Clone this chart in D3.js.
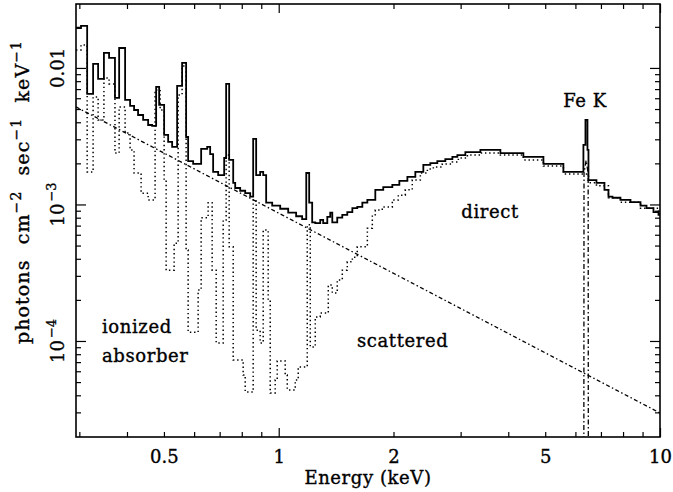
<!DOCTYPE html>
<html>
<head>
<meta charset="utf-8">
<script src="https://d3js.org/d3.v7.min.js"></script>
<style>
body { margin: 0; background: #fff; }
text { font-family: "DejaVu Serif", serif; fill: #000; stroke: #000; stroke-width: 0.35; }
.tick line { stroke: #000; stroke-width: 1.2; }
</style>
</head>
<body>
<svg width="673" height="492"></svg>
<script>
// total model (solid histogram): bin edges in keV, flux per bin
const totalE = [0.294, 0.303, 0.3145, 0.326, 0.336, 0.348, 0.359, 0.372, 0.3815, 0.3955,
  0.4076, 0.4175, 0.4277, 0.441, 0.4545, 0.4656, 0.477, 0.4858, 0.5006, 0.5129,
  0.5254, 0.5415, 0.558, 0.5717, 0.5787, 0.5965, 0.626, 0.6493, 0.661, 0.673,
  0.6938, 0.7194, 0.728, 0.7414, 0.7597, 0.7689, 0.7924, 0.8168, 0.8419, 0.8571,
  0.8727, 0.894, 0.9106, 0.927, 0.9614, 1.009, 1.059, 1.111, 1.152, 1.181,
  1.202, 1.224, 1.247, 1.285, 1.308, 1.341, 1.365, 1.382, 1.424, 1.468,
  1.513, 1.560, 1.607, 1.657, 1.708, 1.792, 1.880, 1.986, 2.072, 2.175,
  2.282, 2.395, 2.498, 2.606, 2.735, 2.854, 2.941, 3.087, 3.380, 3.814,
  4.382, 4.946, 5.580, 6.297, 6.375, 6.453, 6.492, 6.813, 7.150, 7.325,
  7.505, 7.875, 8.368, 8.889, 9.218, 9.614, 9.91, 10]
const totalF = [0.0196, 0.0203, 0.00645, 0.0107, 0.00831, 0.01288, 0.01184, 0.00603, 0.0140, 0.00583,
  0.00527, 0.00492, 0.00452, 0.00416, 0.00382, 0.00376, 0.00726, 0.00536, 0.00323, 0.00287,
  0.00264, 0.00738, 0.01088, 0.00312, 0.00208, 0.00198, 0.00255, 0.00264, 0.00234, 0.00173,
  0.00164, 0.00219, 0.00764, 0.00212, 0.00144, 0.00132, 0.00126, 0.00121, 0.00114, 0.00302,
  0.00164, 0.00173, 0.00164, 0.00103, 0.00098, 0.00093, 0.00087, 0.00082, 0.00078, 0.0017,
  0.00103, 0.00074, 0.00073, 0.00077, 0.00073, 0.00081, 0.00087, 0.00074, 0.0008, 0.00084,
  0.00088, 0.00094, 0.00096, 0.00103, 0.00108, 0.00128, 0.00134, 0.00139, 0.00149, 0.00159,
  0.00173, 0.00195, 0.00201, 0.00208, 0.00215, 0.00223, 0.0023, 0.00242, 0.00251, 0.00238,
  0.00223, 0.00198, 0.00173, 0.00273, 0.00416, 0.00251, 0.00151, 0.00144, 0.00128, 0.00114,
  0.00112, 0.00108, 0.00104, 0.00098, 0.00094, 0.00088, 0.00084]

// direct component through the ionized absorber (dotted)
const directE = [0.294, 0.303, 0.3145, 0.326, 0.336, 0.348, 0.359, 0.372, 0.3815, 0.3955,
  0.4076, 0.4175, 0.4356, 0.4545, 0.474, 0.4887, 0.5006, 0.5067, 0.5318, 0.5448,
  0.558, 0.5717, 0.5787, 0.6147, 0.626, 0.653, 0.669, 0.6855, 0.7151, 0.728,
  0.7414, 0.7597, 0.8068, 0.8168, 0.8571, 0.8727, 0.894, 0.9106, 0.9384, 0.95,
  0.979, 0.991, 1.040, 1.053, 1.105, 1.125, 1.188, 1.21, 1.247, 1.285,
  1.349, 1.382, 1.424, 1.468, 1.513, 1.560, 1.607, 1.708, 1.760, 1.792,
  1.869, 1.986, 2.059, 2.148, 2.240, 2.352, 2.454, 2.544, 2.686, 2.854,
  2.959, 3.125, 3.380, 3.814, 4.382, 4.946, 5.580, 6.492, 6.813, 7.325,
  7.875, 8.889, 9.91, 10]
const directF = [0.01354, 0.01474, 0.00173, 0.00613, 0.00416, 0.00845, 0.00764, 0.00238, 0.00518, 0.00334,
  0.00251, 0.0017, 0.00121, 0.00108, 0.0069, 0.00492, 0.00151, 0.00033, 0.00052, 0.00634,
  0.01034, 0.000464, 0.000116, 0.000236, 0.0008, 0.00103, 0.00033, 0.0000967, 0.00077, 0.0023,
  0.00049, 0.0000726, 0.0000563, 0.0000423, 0.00108, 0.00012, 0.0000967, 0.00065, 0.0002, 0.0000416,
  0.0000518, 0.0000714, 0.0000563, 0.0000438, 0.0000518, 0.0000645, 0.00071, 0.0000904, 0.00015, 0.00016,
  0.000257, 0.000225, 0.00028, 0.00033, 0.00038, 0.00041, 0.00049, 0.00067, 0.00084, 0.00091,
  0.00096, 0.00108, 0.00117, 0.00128, 0.00151, 0.0017, 0.00182, 0.00188, 0.00198, 0.00205,
  0.00219, 0.0023, 0.00238, 0.0023, 0.00212, 0.00191, 0.00167, 0.00144, 0.00137, 0.00112,
  0.00104, 0.00094, 0.00085]

// scattered power law (dash-dot)
const scatterE = [0.294, 10]
const scatterF = [0.00518, 0.0000297]

// Fe K line component (dash-dot)
const feE = [6.31, 6.32, 6.40, 6.48, 6.49]
const feF = [1e-6, 0.0017, 0.0021, 0.0017, 1e-6]

// axis ticks
const xLabelTicks = [0.5, 1, 2, 5, 10]
const xMajorTicks = [1, 10]
const xMinorTicks = [0.3, 0.4, 0.5, 0.6, 0.7, 0.8, 0.9, 2, 3, 4, 5, 6, 7, 8, 9]
const yMajorTicks = [1e-4, 1e-3, 1e-2]
const yMinorTicks = [3e-5, 4e-5, 5e-5, 6e-5, 7e-5, 8e-5, 9e-5,
  2e-4, 3e-4, 4e-4, 5e-4, 6e-4, 7e-4, 8e-4, 9e-4,
  2e-3, 3e-3, 4e-3, 5e-3, 6e-3, 7e-3, 8e-3, 9e-3, 2e-2]
const yLabelBase = ["10", "10", "0.01"]
const yLabelSup = ["\u22124", "\u22123", ""]

const pLeft = 76, pRight = 660, pTop = 4, pBottom = 437

const svg = d3.select("svg")
const x = d3.scaleLog().domain([0.294, 10]).range([pLeft, pRight])
const y = d3.scaleLog().domain([1.98e-5, 0.0294]).range([pBottom, pTop])

svg.append("defs").append("clipPath").attr("id", "plot")
  .append("rect").attr("x", pLeft).attr("y", pTop)
  .attr("width", pRight - pLeft).attr("height", pBottom - pTop)

function steps(E, F) {
  const pts = F.map((f, i) => [E[i], f])
  pts.push([E[E.length - 1], F[F.length - 1]])
  return pts
}
const stepLine = d3.line().curve(d3.curveStepAfter).x(d => x(d[0])).y(d => y(d[1]))
const line = d3.line().x(d => x(d[0])).y(d => y(d[1]))

const plot = svg.append("g").attr("clip-path", "url(#plot)")

plot.append("path")
  .attr("d", line(scatterE.map((e, i) => [e, scatterF[i]])))
  .attr("fill", "none").attr("stroke", "#000").attr("stroke-width", 1.3)
  .attr("stroke-dasharray", "4,2.5,1.5,2.5")

plot.append("path")
  .attr("d", line(feE.map((e, i) => [e, feF[i]])))
  .attr("fill", "none").attr("stroke", "#000").attr("stroke-width", 1.3)
  .attr("stroke-dasharray", "5,2.5,1.5,2.5")

plot.append("path")
  .attr("d", stepLine(steps(directE, directF)))
  .attr("fill", "none").attr("stroke", "#000").attr("stroke-width", 1.5)
  .attr("stroke-dasharray", "1.4,2.8")

plot.append("path")
  .attr("d", stepLine(steps(totalE, totalF)))
  .attr("fill", "none").attr("stroke", "#000").attr("stroke-width", 1.8)

// ticks on all four sides, pointing inward
function clean(g) { g.select(".domain").remove() }
svg.append("g").attr("transform", `translate(0,${pBottom})`)
  .call(d3.axisBottom(x).tickValues(xMinorTicks).tickSize(-5).tickFormat("")).call(clean)
svg.append("g").attr("transform", `translate(0,${pBottom})`)
  .call(d3.axisBottom(x).tickValues(xMajorTicks).tickSize(-9).tickFormat("")).call(clean)
svg.append("g").attr("transform", `translate(0,${pTop})`)
  .call(d3.axisTop(x).tickValues(xMinorTicks).tickSize(-5).tickFormat("")).call(clean)
svg.append("g").attr("transform", `translate(0,${pTop})`)
  .call(d3.axisTop(x).tickValues(xMajorTicks).tickSize(-9).tickFormat("")).call(clean)
svg.append("g").attr("transform", `translate(0,${pBottom})`)
  .call(d3.axisBottom(x).tickValues(xLabelTicks).tickSize(0).tickPadding(13).tickFormat(d3.format("~g")))
  .call(clean)
  .selectAll("text").attr("font-size", 18).attr("font-family", "DejaVu Serif")

svg.append("g").attr("transform", `translate(${pLeft},0)`)
  .call(d3.axisLeft(y).tickValues(yMinorTicks).tickSize(-5).tickFormat("")).call(clean)
svg.append("g").attr("transform", `translate(${pLeft},0)`)
  .call(d3.axisLeft(y).tickValues(yMajorTicks).tickSize(-10).tickFormat("")).call(clean)
svg.append("g").attr("transform", `translate(${pRight},0)`)
  .call(d3.axisRight(y).tickValues(yMinorTicks).tickSize(-5).tickFormat("")).call(clean)
svg.append("g").attr("transform", `translate(${pRight},0)`)
  .call(d3.axisRight(y).tickValues(yMajorTicks).tickSize(-10).tickFormat("")).call(clean)

// rotated y tick labels
yMajorTicks.forEach((v, i) => {
  const t = svg.append("text")
    .attr("transform", `translate(64,${y(v)}) rotate(-90)`)
    .attr("text-anchor", "middle").attr("font-size", 18)
  t.append("tspan").text(yLabelBase[i])
  if (yLabelSup[i]) t.append("tspan").attr("dx", 2).attr("dy", -8).attr("font-size", 13).text(yLabelSup[i])
})

// frame
svg.append("rect").attr("x", pLeft).attr("y", pTop)
  .attr("width", pRight - pLeft).attr("height", pBottom - pTop)
  .attr("fill", "none").attr("stroke", "#000").attr("stroke-width", 1.6)

// axis titles
svg.append("text").attr("x", (pLeft + pRight) / 2).attr("y", 484)
  .attr("text-anchor", "middle").attr("font-size", 18).attr("letter-spacing", 0.6)
  .text("Energy (keV)")

const yt = svg.append("text")
  .attr("transform", "translate(29,192) rotate(-90)")
  .attr("text-anchor", "middle").attr("font-size", 19)
  .attr("letter-spacing", 1.1).attr("word-spacing", 8)
yt.append("tspan").text("photons cm")
yt.append("tspan").attr("dy", -8).attr("font-size", 14).text("\u22122")
yt.append("tspan").attr("dy", 8).text(" sec")
yt.append("tspan").attr("dy", -8).attr("font-size", 14).text("\u22121")
yt.append("tspan").attr("dy", 8).text(" keV")
yt.append("tspan").attr("dy", -8).attr("font-size", 14).text("\u22121")

// annotations
const notes = [
  {t: "Fe K", x: 585, y: 107, a: "middle"},
  {t: "direct", x: 490, y: 218, a: "middle"},
  {t: "ionized", x: 102, y: 333, a: "start"},
  {t: "absorber", x: 102, y: 362, a: "start"},
  {t: "scattered", x: 357, y: 347, a: "start"}
]
notes.forEach(n => svg.append("text").attr("x", n.x).attr("y", n.y)
  .attr("text-anchor", n.a).attr("font-size", 18).attr("letter-spacing", 0.6).text(n.t))
</script>
</body>
</html>
